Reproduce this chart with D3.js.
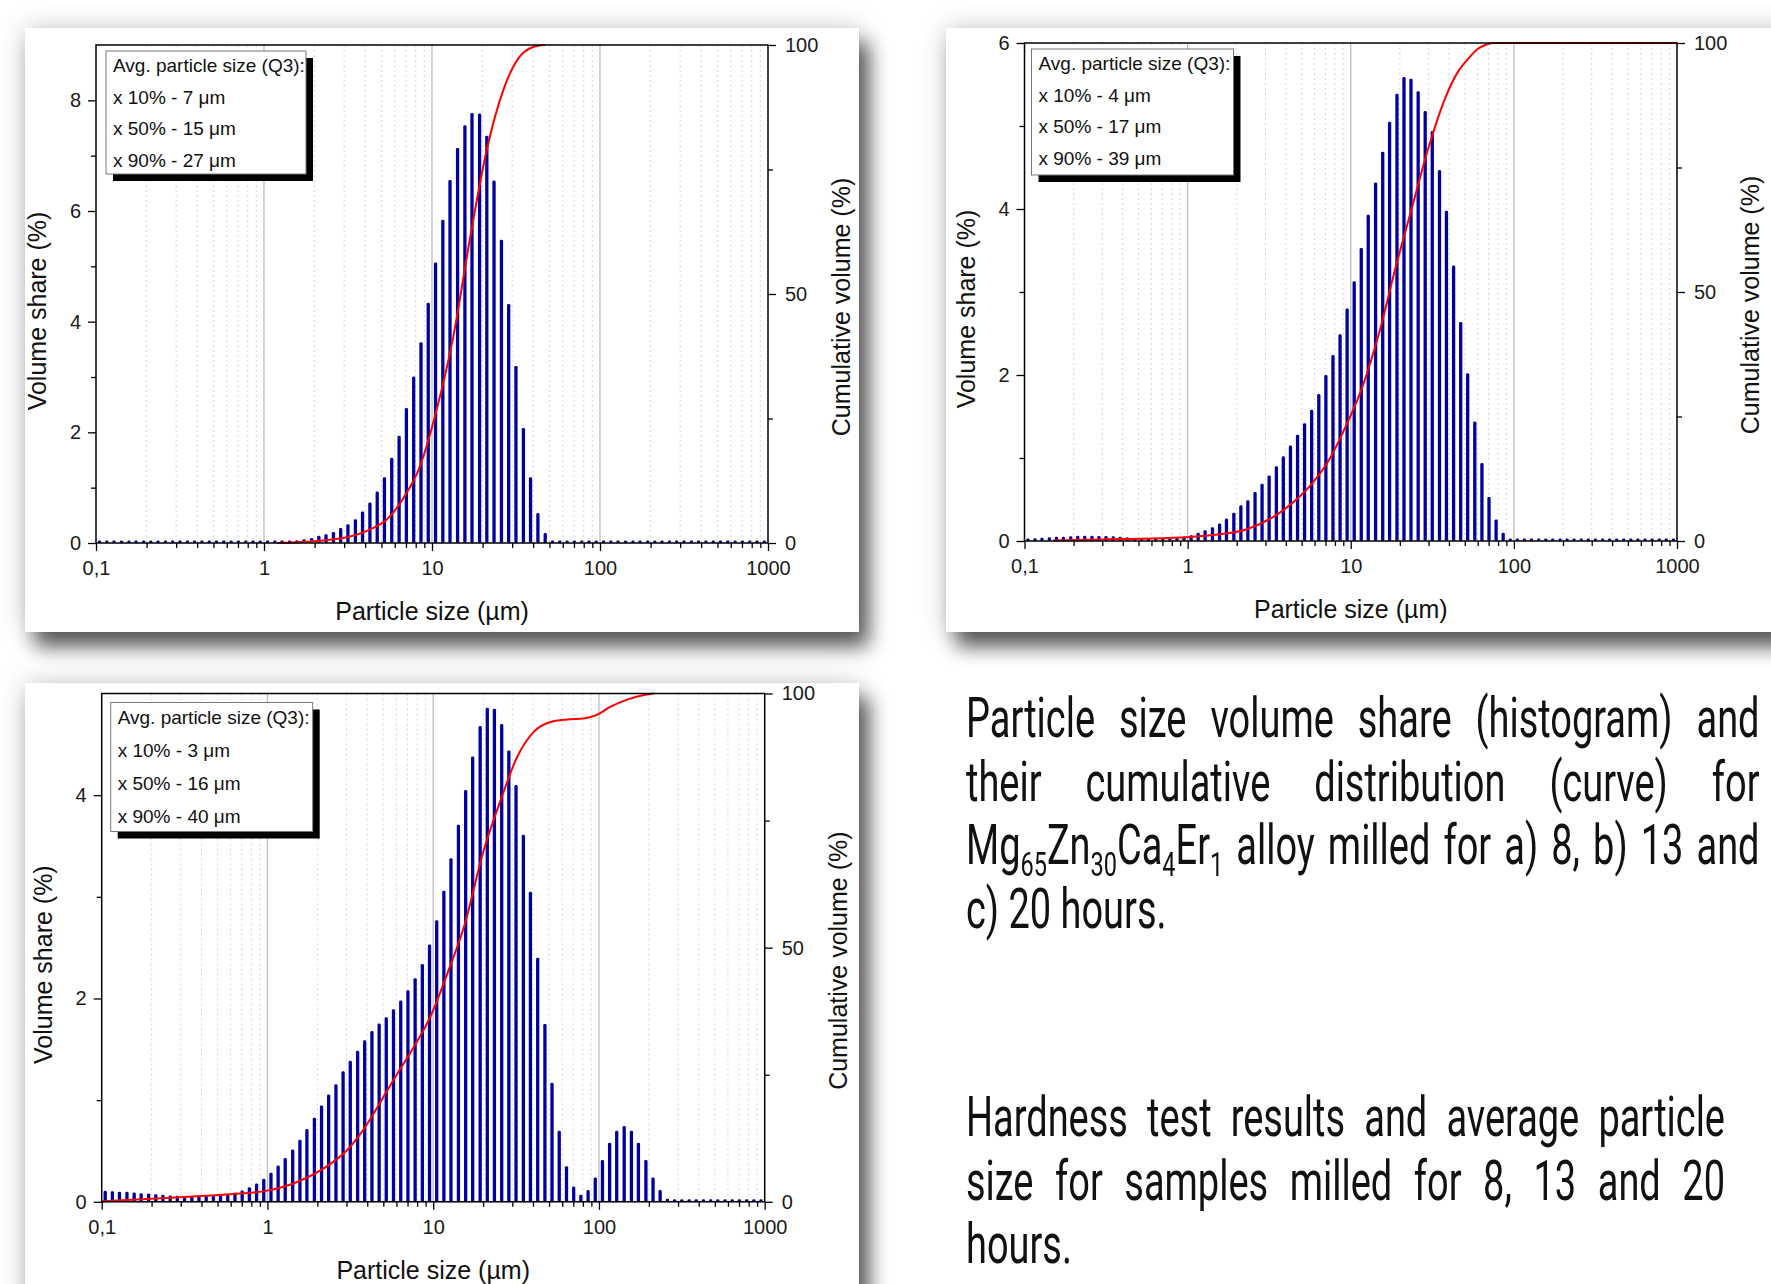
<!doctype html>
<html lang="en">
<head>
<meta charset="utf-8">
<script src="https://cdn.jsdelivr.net/npm/d3@7"></script>
<style>
  html, body { margin: 0; padding: 0; background: #fff; }
  body { width: 1771px; height: 1284px; position: relative; overflow: hidden; }
  #chart { position: absolute; left: 0; top: 0; }
  .caption { position: absolute; color: #111; font-family: Roboto, "Open Sans", sans-serif; font-size: 55px; line-height: 63.5px; }
  .caption .inner { transform-origin: 0 0; transform: scaleX(0.69); }
  .caption .j { text-align: justify; text-align-last: justify; }
  .caption sub { font-size: 0.62em; vertical-align: -0.36em; line-height: 0; }
</style>
</head>
<body>
<svg id="chart" width="1771" height="1284"></svg>

<!-- text block on the right -->
<div class="caption" style="left:966px; top:687px;">
  <div class="inner" style="width:1150px;">
    <div class="j">Particle size volume share (histogram) and</div>
    <div class="j">their cumulative distribution (curve) for</div>
    <div class="j">Mg<sub>65</sub>Zn<sub>30</sub>Ca<sub>4</sub>Er<sub>1</sub> alloy milled for a) 8, b) 13 and</div>
    <div>c) 20 hours.</div>
  </div>
</div>
<div class="caption" style="left:966px; top:1086px;">
  <div class="inner" style="width:1100px;">
    <div class="j">Hardness test results and average particle</div>
    <div class="j">size for samples milled for 8, 13 and 20</div>
    <div>hours.</div>
  </div>
</div>

<script>
// particle size classes (µm), same for all three measurements
var sizes = [
  0.105, 0.116, 0.128, 0.142, 0.157, 0.173, 0.192, 0.212, 0.234, 0.259, 0.286, 0.316,
  0.350, 0.386, 0.427, 0.472, 0.521, 0.576, 0.637, 0.704, 0.778, 0.860, 0.950,
  1.05, 1.16, 1.28, 1.42, 1.57, 1.73, 1.92, 2.12, 2.34, 2.59, 2.86, 3.16,
  3.50, 3.86, 4.27, 4.72, 5.21, 5.76, 6.37, 7.04, 7.78, 8.60, 9.50,
  10.5, 11.6, 12.8, 14.2, 15.7, 17.3, 19.2, 21.2, 23.4, 25.9, 28.6, 31.6,
  35.0, 38.6, 42.7, 47.2, 52.1, 57.6, 63.7, 70.4, 77.8, 86.0, 95.0,
  105, 116, 128, 142, 157, 173, 192, 212, 234, 259, 286, 316,
  350, 386, 427, 472, 521, 576, 637, 704, 778, 860, 950
];

// a) 8 h - volume share (%)
var shareA = [
  0, 0, 0, 0, 0, 0, 0, 0, 0, 0, 0, 0, 0, 0, 0, 0, 0, 0, 0, 0, 0, 0, 0,
  0.01, 0.02, 0.025, 0.04, 0.05, 0.07, 0.09, 0.13, 0.16, 0.20, 0.27, 0.34, 0.43,
  0.57, 0.73, 0.93, 1.19, 1.54, 1.94, 2.44, 3.01, 3.63, 4.34, 5.07, 5.84, 6.56,
  7.14, 7.55, 7.77, 7.76, 7.36, 6.55, 5.48, 4.32, 3.20, 2.08, 1.19, 0.54, 0.18, 0.01,
  0, 0, 0, 0, 0, 0, 0, 0, 0, 0, 0, 0, 0, 0, 0, 0, 0, 0, 0, 0, 0, 0, 0, 0, 0, 0, 0, 0, 0
];
// b) 13 h
var shareB = [
  0.028, 0.032, 0.04, 0.044, 0.052, 0.052, 0.056, 0.064, 0.064, 0.064, 0.06, 0.06,
  0.056, 0.052, 0.044, 0.036, 0.032, 0.028, 0.024, 0.028, 0.028, 0.036, 0.05,
  0.07, 0.10, 0.13, 0.165, 0.21, 0.27, 0.34, 0.43, 0.49, 0.59, 0.69, 0.79, 0.90,
  1.02, 1.15, 1.28, 1.42, 1.58, 1.77, 2.00, 2.24, 2.49, 2.80, 3.13, 3.53, 3.93,
  4.32, 4.69, 5.05, 5.39, 5.59, 5.57, 5.42, 5.18, 4.94, 4.47, 3.98, 3.32, 2.64,
  2.02, 1.44, 0.94, 0.53, 0.26, 0.10, 0.01,
  0, 0, 0, 0, 0, 0, 0, 0, 0, 0, 0, 0, 0, 0, 0, 0, 0, 0, 0, 0, 0, 0, 0
];
// c) 20 h
var shareC = [
  0.108, 0.105, 0.10, 0.098, 0.092, 0.085, 0.082, 0.075, 0.069, 0.062, 0.059, 0.056,
  0.056, 0.059, 0.062, 0.062, 0.066, 0.069, 0.089, 0.11, 0.144, 0.18, 0.226,
  0.285, 0.357, 0.43, 0.515, 0.61, 0.715, 0.826, 0.948, 1.056, 1.157, 1.285, 1.387,
  1.485, 1.59, 1.68, 1.754, 1.816, 1.895, 1.98, 2.08, 2.20, 2.34, 2.53, 2.77, 3.06,
  3.38, 3.71, 4.05, 4.38, 4.68, 4.86, 4.85, 4.70, 4.44, 4.10, 3.61, 3.05, 2.40,
  1.75, 1.17, 0.70, 0.35, 0.15, 0.07, 0.115, 0.24, 0.41, 0.58, 0.70, 0.745,
  0.70, 0.58, 0.41, 0.24, 0.115, 0.03,
  0, 0, 0, 0, 0, 0, 0, 0, 0, 0, 0, 0, 0
];

// cumulative curves (size µm / %)
var cumSizesA = [1.2, 2.0, 3.25, 4.27, 5.38, 6.75, 8.48, 10.7, 13.4, 16.8, 21.2, 26.6, 33, 40, 47];
var cumA      = [0, 0.35, 1.3, 2.7, 4.7, 9, 15.4, 27, 41.5, 61, 79, 91, 97.5, 99.6, 100];
var cumSizesB = [0.15, 0.4, 0.9, 1.42, 2.28, 3.64, 5.82, 7.37, 9.31, 11.8, 14.9, 18.9, 23.8, 30.1, 38.2, 45, 53, 60, 68, 76, 1000];
var cumB      = [0.1, 0.4, 0.7, 1.2, 2.3, 5.6, 11.6, 16.3, 23, 31, 41.7, 55.1, 67.1, 79.2, 89.2, 94, 97, 98.8, 99.7, 100, 100];
var cumSizesC = [0.1, 0.2, 0.378, 0.6, 1.0, 1.51, 2.41, 3.03, 3.83, 4.82, 6.07, 7.65, 9.64, 12.2, 15.3, 20.2, 25.5, 32.1, 40.5, 51, 64.4, 81, 95.5, 117.5, 148, 187, 215];
var cumC      = [0.1, 0.6, 1.1, 1.5, 2.2, 3.9, 7.5, 10.2, 14.4, 19.7, 25.2, 30.5, 36.5, 45, 54, 69.2, 79, 87.5, 92.5, 94.4, 94.9, 95.1, 95.7, 97.4, 98.8, 99.7, 100];

var xTickValues = [0.1, 1, 10, 100, 1000];
var xTickLabels = ["0,1", "1", "10", "100", "1000"];
var decades = [0.1, 1, 10, 100];
var minorSteps = [2, 3, 4, 5, 6, 7, 8, 9];
var rightTicks = [0, 50, 100];
var rightMinor = [25, 75];

var legendA = ["Avg. particle size (Q3):", "x 10% - 7 \u03bcm", "x 50% - 15 \u03bcm", "x 90% - 27 \u03bcm"];
var legendB = ["Avg. particle size (Q3):", "x 10% - 4 \u03bcm", "x 50% - 17 \u03bcm", "x 90% - 39 \u03bcm"];
var legendC = ["Avg. particle size (Q3):", "x 10% - 3 \u03bcm", "x 50% - 16 \u03bcm", "x 90% - 40 \u03bcm"];

var minorTicks = [];
decades.forEach(function (d) { minorSteps.forEach(function (m) { minorTicks.push(d * m); }); });

var svg = d3.select("#chart");
var font = "'Liberation Sans', Arial, sans-serif";

// card shadow
var defs = svg.append("defs");
var f = defs.append("filter").attr("id", "shadow")
    .attr("x", "-10%").attr("y", "-10%").attr("width", "130%").attr("height", "130%");
f.append("feGaussianBlur").attr("in", "SourceAlpha").attr("stdDeviation", 14).attr("result", "glow");
f.append("feComponentTransfer").attr("in", "glow").attr("result", "glow2")
    .append("feFuncA").attr("type", "linear").attr("slope", 0.2);
f.append("feGaussianBlur").attr("in", "SourceAlpha").attr("stdDeviation", 10).attr("result", "blur");
f.append("feOffset").attr("in", "blur").attr("dx", 10).attr("dy", 15).attr("result", "off");
f.append("feComponentTransfer").attr("in", "off").attr("result", "off2")
    .append("feFuncA").attr("type", "linear").attr("slope", 0.62);
var merge = f.append("feMerge");
merge.append("feMergeNode").attr("in", "glow2");
merge.append("feMergeNode").attr("in", "off2");
merge.append("feMergeNode").attr("in", "SourceGraphic");

var cards = [
    { x: 25, y: 28, w: 834, h: 604 },
    { x: 946, y: 28, w: 900, h: 604 },
    { x: 25, y: 683, w: 834, h: 700 }
];
svg.selectAll("rect.card").data(cards).join("rect")
    .attr("class", "card")
    .attr("x", d => d.x).attr("y", d => d.y)
    .attr("width", d => d.w).attr("height", d => d.h)
    .attr("fill", "#fff").attr("filter", "url(#shadow)");

var panels = [
    { left: 96, right: 768, top: 45, bottom: 543, ymax: 9, yTicks: [0, 2, 4, 6, 8], yMinor: [1, 3, 5, 7],
      share: shareA, cumX: cumSizesA, cumY: cumA, legend: legendA,
      lg: { dx: 10, dy: 6, w: 200, h: 123, first: 21, pitch: 31.6 } },
    { left: 1024.5, right: 1677, top: 43, bottom: 541, ymax: 6, yTicks: [0, 2, 4, 6], yMinor: [1, 3, 5],
      share: shareB, cumX: cumSizesB, cumY: cumB, legend: legendB,
      lg: { dx: 7, dy: 6, w: 202, h: 126, first: 21, pitch: 31.6 } },
    { left: 101.7, right: 764.7, top: 693.5, bottom: 1201.8, ymax: 5, yTicks: [0, 2, 4], yMinor: [1, 3],
      share: shareC, cumX: cumSizesC, cumY: cumC, legend: legendC,
      lg: { dx: 9, dy: 9, w: 202, h: 129, first: 21.5, pitch: 33 } }
];

var barW = 3.3;

function styleAxis(sel) {
    sel.select(".domain").remove();
    sel.selectAll("line").attr("stroke", "#000").attr("stroke-width", 1.3);
    sel.selectAll("text").attr("font-family", font).attr("font-size", 20).attr("fill", "#1a1a1a");
}

function drawPanel(p) {
    var g = svg.append("g");
    var x = d3.scaleLog().domain([0.1, 1000]).range([p.left, p.right]);
    var y = d3.scaleLinear().domain([0, p.ymax]).range([p.bottom, p.top]);
    var yR = d3.scaleLinear().domain([0, 100]).range([p.bottom, p.top]);

    // vertical grid
    g.selectAll("line.minorgrid").data(minorTicks).join("line")
        .attr("x1", d => x(d)).attr("x2", d => x(d))
        .attr("y1", p.top).attr("y2", p.bottom)
        .attr("stroke", "#d6d6d6").attr("stroke-width", 1).attr("stroke-dasharray", "2,3");
    g.selectAll("line.majorgrid").data([1, 10, 100]).join("line")
        .attr("x1", d => x(d)).attr("x2", d => x(d))
        .attr("y1", p.top).attr("y2", p.bottom)
        .attr("stroke", "#bdbdbd").attr("stroke-width", 1.3);

    // histogram
    g.selectAll("rect.bar").data(sizes.map((s, i) => ({ s: s, v: p.share[i] }))).join("rect")
        .attr("x", d => x(d.s) - barW / 2)
        .attr("width", barW)
        .attr("y", d => Math.min(y(d.v), p.bottom - 2.5))
        .attr("height", d => Math.max(p.bottom - y(d.v), 2.5))
        .attr("rx", 1.4)
        .attr("fill", "#0000a0");

    // cumulative curve
    var line = d3.line().x(d => x(d[0])).y(d => yR(d[1])).curve(d3.curveMonotoneX);
    g.append("path").datum(d3.zip(p.cumX, p.cumY))
        .attr("d", line).attr("fill", "none")
        .attr("stroke", "#ff0000").attr("stroke-width", 2);

    // axes
    g.append("g").attr("transform", `translate(0,${p.bottom})`)
        .call(d3.axisBottom(x).tickValues(xTickValues).tickFormat((d, i) => xTickLabels[i])
            .tickSize(8).tickPadding(10).tickSizeOuter(0))
        .call(styleAxis);
    g.append("g").attr("transform", `translate(0,${p.bottom})`)
        .call(d3.axisBottom(x).tickValues(minorTicks).tickFormat("").tickSize(5).tickSizeOuter(0))
        .call(styleAxis);
    g.append("g").attr("transform", `translate(${p.left},0)`)
        .call(d3.axisLeft(y).tickValues(p.yTicks).tickFormat(d3.format("d"))
            .tickSize(8).tickPadding(7).tickSizeOuter(0))
        .call(styleAxis);
    g.append("g").attr("transform", `translate(${p.left},0)`)
        .call(d3.axisLeft(y).tickValues(p.yMinor).tickFormat("").tickSize(5).tickSizeOuter(0))
        .call(styleAxis);
    g.append("g").attr("transform", `translate(${p.right},0)`)
        .call(d3.axisRight(yR).tickValues(rightTicks).tickFormat(d3.format("d"))
            .tickSize(8).tickPadding(9).tickSizeOuter(0))
        .call(styleAxis);
    g.append("g").attr("transform", `translate(${p.right},0)`)
        .call(d3.axisRight(yR).tickValues(rightMinor).tickFormat("").tickSize(5).tickSizeOuter(0))
        .call(styleAxis);

    g.append("rect")
        .attr("x", p.left).attr("y", p.top)
        .attr("width", p.right - p.left).attr("height", p.bottom - p.top)
        .attr("fill", "none").attr("stroke", "#000").attr("stroke-width", 1.5);

    // axis titles
    var midY = (p.top + p.bottom) / 2;
    g.append("text")
        .attr("transform", `translate(${p.left - 58.6},${midY + 17}) rotate(-90)`)
        .attr("text-anchor", "middle").attr("dominant-baseline", "central")
        .attr("font-family", font).attr("font-size", 25).attr("fill", "#111")
        .text("Volume share (%)");
    g.append("text")
        .attr("transform", `translate(${p.right + 73},${midY + 13}) rotate(-90)`)
        .attr("text-anchor", "middle").attr("dominant-baseline", "central")
        .attr("font-family", font).attr("font-size", 25).attr("fill", "#111")
        .text("Cumulative volume (%)");
    g.append("text")
        .attr("x", (p.left + p.right) / 2).attr("y", p.bottom + 68)
        .attr("text-anchor", "middle").attr("dominant-baseline", "central")
        .attr("font-family", font).attr("font-size", 25).attr("fill", "#111")
        .text("Particle size (\u00b5m)");

    // legend box
    var lx = p.left + p.lg.dx, ly = p.top + p.lg.dy;
    g.append("rect").attr("x", lx + 7).attr("y", ly + 7)
        .attr("width", p.lg.w).attr("height", p.lg.h).attr("fill", "#000");
    g.append("rect").attr("x", lx).attr("y", ly)
        .attr("width", p.lg.w).attr("height", p.lg.h)
        .attr("fill", "#fff").attr("stroke", "#777").attr("stroke-width", 1);
    g.selectAll("text.leg").data(p.legend).join("text")
        .attr("x", lx + 7).attr("y", (d, i) => ly + p.lg.first + i * p.lg.pitch)
        .attr("font-family", font).attr("font-size", 19).attr("fill", "#111")
        .text(d => d);
}

panels.forEach(drawPanel);
</script>
</body>
</html>
